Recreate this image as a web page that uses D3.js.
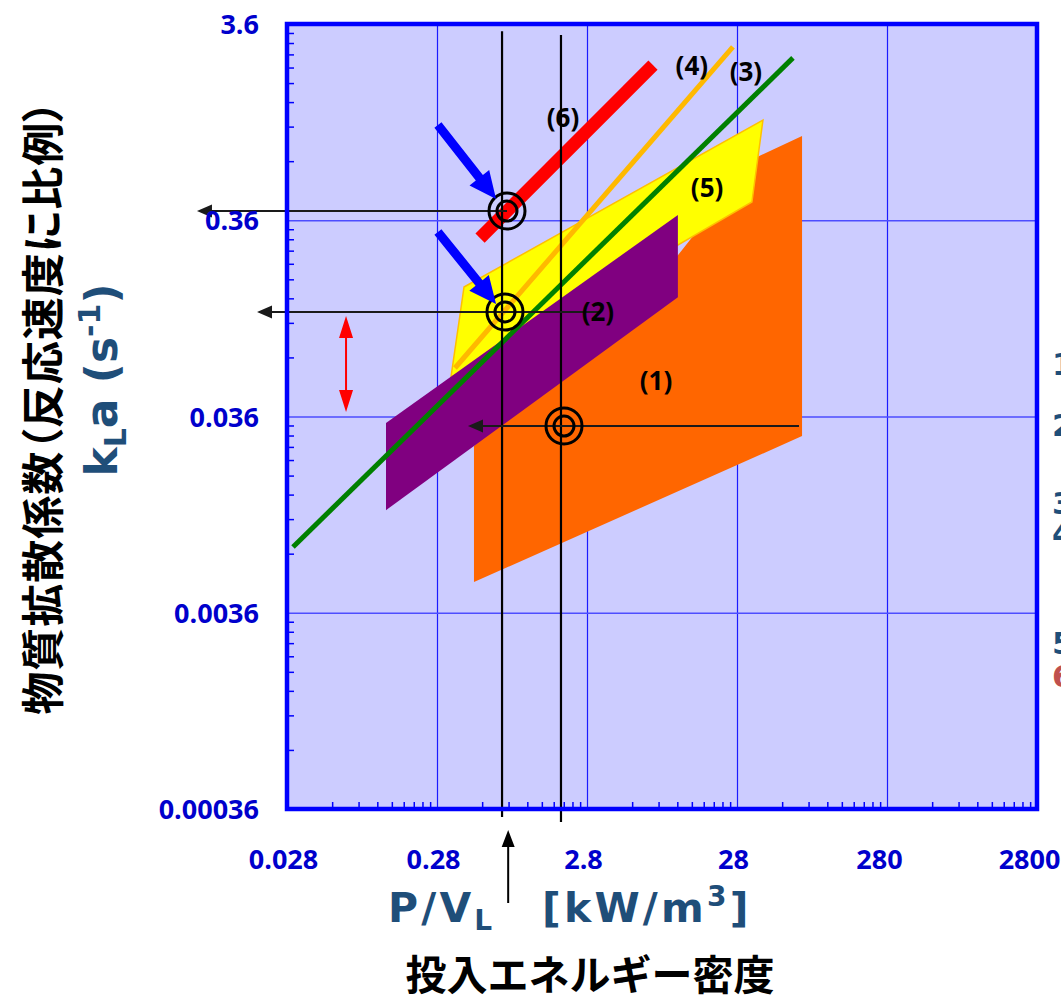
<!DOCTYPE html>
<html lang="ja">
<head>
<meta charset="UTF-8">
<title>kLa vs P/VL</title>
<script src="https://d3js.org/d3.v7.min.js"></script>
<style>
  body { margin: 0; background: #fff; }
  svg { display: block; }
  .tick-label { font-family: 'Open Sans', sans-serif; font-weight: 700; font-size: 27px; fill: #0000cc; }
  .tag { font-family: 'Open Sans', sans-serif; font-weight: 700; font-size: 26px; fill: #000; }
  .ttl-en { font-family: 'DejaVu Sans', sans-serif; font-weight: 700; fill: #1f4e79; }
  .ttl-jp { font-family: 'Noto Sans CJK JP', sans-serif; font-weight: 700; fill: #000; }
</style>
</head>
<body>
<svg id="chart" width="1061" height="1000"></svg>
<script>
// axis ticks
const xTicks = [0.028, 0.28, 2.8, 28, 280, 2800];
const xTickLabels = ["0.028", "0.28", "2.8", "28", "280", "2800"];
const yTicks = [0.00036, 0.0036, 0.036, 0.36, 3.6];
const yTickLabels = ["0.00036", "0.0036", "0.036", "0.36", "3.6"];

// regions, [P/V, kLa]
const region1 = [[0.494, 0.00516], [0.494, 0.0255], [11.3, 0.239], [36.9, 0.747], [76, 0.968], [76, 0.0286]];
const region2 = [[0.128, 0.0334], [11.3, 0.383], [11.3, 0.146], [0.128, 0.0120]];
const region5 = [[0.424, 0.1645], [41.7, 1.167], [35.2, 0.446], [0.347, 0.0572]];
// correlation lines
const line3 = [[0.0307, 0.00779], [66.1, 2.42]];
const line4 = [[0.369, 0.0636], [26.3, 2.75]];
const line6 = [[0.542, 0.292], [7.71, 2.22]];
// annotations
const guideX = [0.76, 1.878];
const guideTop = [3.31, 3.16];
const guideBottom = [0.000328, 0.000309];
const targets = [[0.82, 0.401], [0.795, 0.1227], [1.967, 0.0322]];
const readArrows = [[0.82, 0.00703, 0.401], [3.42, 0.01767, 0.1227], [72.5, 0.4505, 0.0322]];
const blueArrows = [[[0.284, 1.10], [0.693, 0.462]], [[0.284, 0.3136], [0.693, 0.1348]]];
const rangeArrow = [0.0693, 0.117, 0.038];
const tagText = ["(1)", "(2)", "(3)", "(4)", "(5)", "(6)"];
const tagPos = [[8.07, 0.0546], [3.31, 0.1227], [32.1, 2.07], [14.0, 2.22], [17.7, 0.526], [1.937, 1.195]];
const sideNums = ["1", "2", "3", "4", "5", "6"];
const sideY = [375, 436, 514, 544, 654, 687];

const svg = d3.select("#chart");
const L = 287, R = 1037, T = 24, B = 809;

const x = d3.scaleLog().domain([0.028, 2800]).range([L, R]);
const y = d3.scaleLog().domain([0.00036, 3.6]).range([B, T]);

// plot background
svg.append("rect").attr("x", L).attr("y", T).attr("width", R - L).attr("height", B - T).attr("fill", "#ccccff");

// grid
svg.append("g").attr("transform", `translate(0,${B})`)
  .call(d3.axisBottom(x).tickValues(xTicks.slice(1, -1)).tickSize(-(B - T)).tickFormat(""))
  .call(g => g.select(".domain").remove())
  .call(g => g.selectAll("line").attr("stroke", "#1a1aff").attr("stroke-width", 1.2));
svg.append("g").attr("transform", `translate(${L},0)`)
  .call(d3.axisLeft(y).tickValues(yTicks.slice(1, -1)).tickSize(-(R - L)).tickFormat(""))
  .call(g => g.select(".domain").remove())
  .call(g => g.selectAll("line").attr("stroke", "#4d4dff").attr("stroke-width", 1.5));

// minor ticks
const minorX = [], minorY = [];
xTicks.slice(0, -1).forEach(b => { for (let k = 2; k <= 9; k++) minorX.push(b * k); });
yTicks.slice(0, -1).forEach(b => { for (let k = 2; k <= 9; k++) minorY.push(b * k); });
svg.append("g").attr("transform", `translate(0,${B})`)
  .call(d3.axisBottom(x).tickValues(minorX).tickSize(-7).tickFormat(""))
  .call(g => g.select(".domain").remove())
  .call(g => g.selectAll("line").attr("stroke", "#0000ff").attr("stroke-width", 1.5));
svg.append("g").attr("transform", `translate(${L},0)`)
  .call(d3.axisLeft(y).tickValues(minorY).tickSize(-7).tickFormat(""))
  .call(g => g.select(".domain").remove())
  .call(g => g.selectAll("line").attr("stroke", "#0000ff").attr("stroke-width", 1.5));

const poly = d3.line().x(d => x(d[0])).y(d => y(d[1]));

// regions
svg.append("path").attr("d", poly(region1) + "Z").attr("fill", "#ff6600");
svg.append("path").attr("d", poly(region5) + "Z").attr("fill", "#ffff00").attr("stroke", "#ffc000").attr("stroke-width", 1.5);
svg.append("path").attr("d", poly(region2) + "Z").attr("fill", "#800080");

// lines
svg.append("path").attr("d", poly(line4)).attr("stroke", "#ffb900").attr("stroke-width", 5).attr("fill", "none");
svg.append("path").attr("d", poly(line3)).attr("stroke", "#008000").attr("stroke-width", 5).attr("fill", "none");
svg.append("path").attr("d", poly(line6)).attr("stroke", "#ff0000").attr("stroke-width", 13).attr("fill", "none");

// arrow shape helper (pixel geometry from scaled end points)
function arrowPts(x1, y1, x2, y2, sw, hl, hw) {
  const dx = x2 - x1, dy = y2 - y1, len = Math.hypot(dx, dy);
  const ux = dx / len, uy = dy / len, nx = -uy, ny = ux;
  const bx = x2 - ux * hl, by = y2 - uy * hl;
  return [
    [x1 + nx * sw / 2, y1 + ny * sw / 2], [bx + nx * sw / 2, by + ny * sw / 2],
    [bx + nx * hw / 2, by + ny * hw / 2], [x2, y2],
    [bx - nx * hw / 2, by - ny * hw / 2], [bx - nx * sw / 2, by - ny * sw / 2],
    [x1 - nx * sw / 2, y1 - ny * sw / 2]
  ];
}

// vertical guide lines
guideX.forEach((gx, i) => {
  svg.append("line").attr("x1", x(gx)).attr("x2", x(gx))
    .attr("y1", y(guideTop[i])).attr("y2", y(guideBottom[i]))
    .attr("stroke", "#000").attr("stroke-width", 2.2);
});

// reading arrows (horizontal, black)
readArrows.forEach(a => {
  svg.append("polygon")
    .attr("points", arrowPts(x(a[0]), y(a[2]), x(a[1]), y(a[2]), 2, 15, 13).join(" "))
    .attr("fill", "#1a1a1a");
});

// target marks
targets.forEach(t => {
  [18, 10].forEach(r => {
    svg.append("circle").attr("cx", x(t[0])).attr("cy", y(t[1])).attr("r", r)
      .attr("fill", "none").attr("stroke", "#000").attr("stroke-width", 3);
  });
});

// blue pointer arrows
blueArrows.forEach(a => {
  svg.append("polygon")
    .attr("points", arrowPts(x(a[0][0]), y(a[0][1]), x(a[1][0]), y(a[1][1]), 9, 27, 25).join(" "))
    .attr("fill", "#0000ff");
});

// red range arrow
{
  const rx = x(rangeArrow[0]), ry1 = y(rangeArrow[1]), ry2 = y(rangeArrow[2]), my = (ry1 + ry2) / 2;
  svg.append("polygon").attr("points", arrowPts(rx, my, rx, ry1, 2, 22, 14).join(" ")).attr("fill", "#ff0000");
  svg.append("polygon").attr("points", arrowPts(rx, my, rx, ry2, 2, 22, 14).join(" ")).attr("fill", "#ff0000");
}

// region tags
tagText.forEach((t, i) => {
  svg.append("text").attr("class", "tag")
    .attr("x", x(tagPos[i][0])).attr("y", y(tagPos[i][1])).attr("dy", "0.36em")
    .attr("text-anchor", "middle").text(t);
});

// frame
svg.append("rect").attr("x", L).attr("y", T).attr("width", R - L).attr("height", B - T)
  .attr("fill", "none").attr("stroke", "#0000ff").attr("stroke-width", 4.5);

// tick labels
svg.append("g").attr("transform", `translate(${L},0)`)
  .call(d3.axisLeft(y).tickValues(yTicks).tickSize(0).tickPadding(28).tickFormat((d, i) => yTickLabels[i]))
  .call(g => g.select(".domain").remove())
  .call(g => g.selectAll("text").attr("class", "tick-label").attr("dy", "0.36em"));
svg.append("g").attr("transform", `translate(0,${B})`)
  .call(d3.axisBottom(x).tickValues(xTicks).tickSize(0).tickPadding(41).tickFormat((d, i) => xTickLabels[i]))
  .call(g => g.select(".domain").remove())
  .call(g => g.selectAll("text").attr("class", "tick-label").attr("dx", (d, i) => i >= 4 ? -8 : -4));

// up arrow under x axis
svg.append("polygon").attr("points", arrowPts(x(0.835), 903, x(0.835), 830, 2, 17, 13).join(" ")).attr("fill", "#000");

// x axis titles
const xt = svg.append("text").attr("class", "ttl-en").attr("x", 388).attr("y", 922)
  .style("font-size", "41px").style("letter-spacing", "3.2px");
xt.append("tspan").text("P/V");
xt.append("tspan").attr("dy", 8).style("font-size", "28px").text("L");
xt.append("tspan").attr("x", 542).attr("dy", -8).text("[kW/m");
xt.append("tspan").attr("dy", -16).style("font-size", "28px").text("3");
xt.append("tspan").attr("dy", 16).text("]");

svg.append("text").attr("class", "ttl-jp").attr("x", 590).attr("y", 990)
  .attr("text-anchor", "middle").style("font-size", "41px").text("投入エネルギー密度");

// y axis titles
svg.append("text").attr("class", "ttl-jp")
  .attr("transform", "translate(40,407) rotate(-90)")
  .attr("text-anchor", "middle").attr("dominant-baseline", "central")
  .style("font-size", "43px").style("letter-spacing", "1px").style("font-feature-settings", "'palt'")
  .text("物質拡散係数（反応速度に比例）");

const yt = svg.append("text").attr("class", "ttl-en")
  .attr("transform", "translate(117,380) rotate(-90)")
  .attr("text-anchor", "middle").style("font-size", "44px");
yt.append("tspan").text("k");
yt.append("tspan").attr("dy", 9).style("font-size", "30px").text("L");
yt.append("tspan").attr("dy", -9).text("a (s");
yt.append("tspan").attr("dy", -17).style("font-size", "30px").text("-1");
yt.append("tspan").attr("dy", 17).text(")");

// legend numbers cut by the right edge
sideNums.forEach((n, i) => {
  svg.append("text").attr("class", "ttl-en").attr("x", 1052).attr("y", sideY[i])
    .style("font-size", "31px").style("fill", i === 5 ? "#c0504d" : "#1f4e79").text(n);
});
</script>
</body>
</html>
